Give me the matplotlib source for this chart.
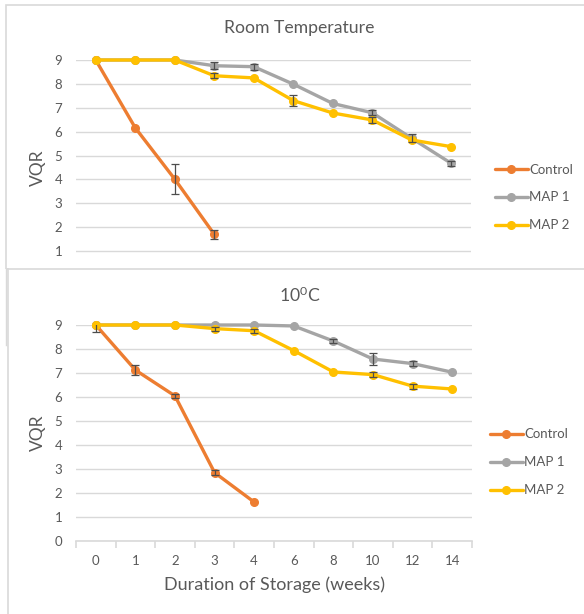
import matplotlib
matplotlib.use("Agg")
import matplotlib.pyplot as plt
import numpy as np
from matplotlib.lines import Line2D
from matplotlib.patches import Rectangle

plt.rcParams['font.family'] = ['Lato', 'DejaVu Sans']
plt.rcParams['mathtext.fontset'] = 'custom'
plt.rcParams['mathtext.rm'] = 'Lato'
plt.rcParams['mathtext.default'] = 'regular'

weeks = ['0', '1', '2', '3', '4', '6', '8', '10', '12', '14']
series_names = ['Control', 'MAP 1', 'MAP 2']

# Room temperature
rt_control = [9.0, 6.16, 4.01, 1.70]
rt_control_err = [0, 0, 0.63, 0.18]
rt_map1 = [9.0, 9.0, 9.0, 8.76, 8.72, 7.99, 7.18, 6.79, 5.72, 4.67]
rt_map1_err = [0, 0, 0, 0.15, 0.13, 0, 0, 0.1, 0.17, 0.11]
rt_map2 = [9.0, 9.0, 9.0, 8.34, 8.25, 7.30, 6.78, 6.49, 5.65, 5.37]
rt_map2_err = [0, 0, 0, 0.1, 0, 0.24, 0, 0.13, 0, 0]

# 10 C
c10_control = [9.0, 7.12, 6.04, 2.84, 1.61]
c10_control_err = [0.3, 0.22, 0.1, 0.1, 0]
c10_map1 = [9.0, 9.0, 9.0, 9.0, 9.0, 8.96, 8.33, 7.58, 7.39, 7.03]
c10_map1_err = [0, 0, 0, 0, 0, 0, 0.08, 0.24, 0.1, 0]
c10_map2 = [9.0, 9.0, 9.0, 8.85, 8.76, 7.93, 7.04, 6.93, 6.45, 6.33]
c10_map2_err = [0, 0, 0, 0.08, 0.08, 0, 0, 0.12, 0.1, 0]

colors = ['#ED7D31', '#A5A5A5', '#FFC000']
txt = '#595959'
grid = '#D9D9D9'

W, H = 584, 614
fig = plt.figure(figsize=(W / 100, H / 100), dpi=100)


def fx(px):
    return px / W


def fy(py):
    return 1 - py / H


# panel boxes
fig.patches.append(Rectangle((fx(6), fy(269)), fx(600) - fx(6), fy(5) - fy(269),
                             transform=fig.transFigure, fill=False, ec=grid, lw=1.2))
fig.add_artist(Line2D([fx(7.5), fx(7.5)], [fy(269), fy(614)], transform=fig.transFigure,
                      color=grid, lw=1.2))
fig.add_artist(Line2D([fx(6), fx(6)], [fy(269), fy(345)], transform=fig.transFigure,
                      color=grid, lw=1.0))


def draw(ax, data, errs):
    x = np.arange(len(weeks))
    handles = []
    for i, (vals, err) in enumerate(zip(data, errs)):
        xs = x[:len(vals)]
        vals = np.array(vals)
        err = np.array(err)
        h, = ax.plot(xs, vals, color=colors[i], lw=2.4, marker='o', ms=5.5,
                     clip_on=False, zorder=3 + i, solid_capstyle='round')
        handles.append(h)
        m = err > 0
        if m.any():
            ax.errorbar(xs[m], vals[m], yerr=err[m], fmt='none', ecolor='#4D4D4D',
                        elinewidth=0.9, capsize=3, capthick=0.9, zorder=6, clip_on=True)
    ax.set_xlim(-0.5, len(weeks) - 0.5)
    ax.set_yticks(range(0, 10))
    ax.yaxis.grid(True, color=grid, lw=1)
    ax.set_axisbelow(True)
    for s in ax.spines.values():
        s.set_visible(False)
    ax.tick_params(axis='y', length=0, pad=10, labelcolor=txt, labelsize=9.5)
    return handles


# top axes
ax1 = fig.add_axes([fx(76), fy(268), fx(471) - fx(76), fy(60) - fy(268)])
h1 = draw(ax1, [rt_control, rt_map1, rt_map2], [rt_control_err, rt_map1_err, rt_map2_err])
ax1.set_ylim(1 - 17 / 23.9, 9)
ax1.set_xticks([])
ax1.set_yticks(range(1, 10))

# bottom axes
ax2 = fig.add_axes([fx(76), fy(540.7), fx(472) - fx(76), fy(325) - fy(540.7)])
h2 = draw(ax2, [c10_control, c10_map1, c10_map2], [c10_control_err, c10_map1_err, c10_map2_err])
ax2.set_ylim(0, 9)
ax2.spines['bottom'].set_visible(True)
ax2.spines['bottom'].set_color(grid)
ax2.spines['bottom'].set_linewidth(1.2)
ax2.set_xticks(np.arange(len(weeks)))
ax2.set_xticklabels(weeks)
ax2.set_xticks(np.arange(-0.5, len(weeks)), minor=True)
ax2.tick_params(axis='x', which='major', length=0, pad=10, labelcolor=txt, labelsize=9.5)
ax2.tick_params(axis='x', which='minor', length=5, color=grid, width=1.2)

# titles and labels
fig.text(fx(299), fy(28), 'Room Temperature', ha='center', va='center', color=txt, fontsize=12.7)
fig.text(fx(300), fy(295), '10$^0$C', ha='center', va='center', color=txt, fontsize=12.7)
fig.text(fx(38), fy(168), 'VQR', rotation=90, ha='center', va='center', color=txt, fontsize=12.5)
fig.text(fx(38), fy(433), 'VQR', rotation=90, ha='center', va='center', color=txt, fontsize=12.5)
fig.text(fx(274), fy(585), 'Duration of Storage (weeks)', ha='center', va='center', color=txt, fontsize=13)

# legends
for hs, (lx, ly) in [(h1, (495, 163.5)), (h2, (490, 428.5))]:
    leg = fig.legend(hs, series_names, loc='upper left',
                     bbox_to_anchor=(fx(lx), fy(ly)), frameon=False, fontsize=9.5,
                     handlelength=2.5, handletextpad=0.1, labelspacing=1.2,
                     borderpad=0, borderaxespad=0, labelcolor=txt)

fig.savefig('out.png', dpi=100)
